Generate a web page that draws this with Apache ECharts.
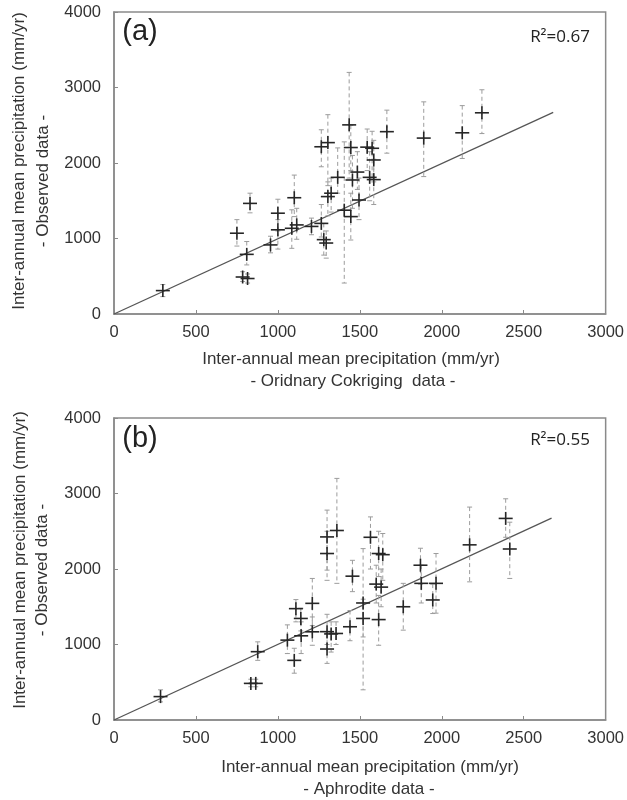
<!DOCTYPE html>
<html>
<head>
<meta charset="utf-8">
<script src="https://cdn.jsdelivr.net/npm/echarts@6/dist/echarts.min.js"></script>
<style>
  html, body { margin: 0; padding: 0; background: #fff; }
  #chart { width: 627px; height: 800px; }
</style>
</head>
<body>
<div id="chart"></div>
<script>
// Panel (a): Ordinary Cokriging estimate vs observed, with observed spread (low/high)
const cokrigingX     = [298, 750, 830, 810, 785, 815, 955, 1000, 1000, 1100, 1085, 1115, 1205, 1265, 1280, 1295, 1265, 1305, 1305, 1325, 1365, 1405, 1435, 1445, 1445, 1455, 1485, 1495, 1545, 1575, 1585, 1560, 1585, 1665, 1890, 2125, 2245];
const cokrigingObs   = [310, 1070, 1465, 790, 490, 470, 915, 1335, 1115, 1540, 1135, 1180, 1160, 1200, 985, 940, 2215, 2270, 1555, 1600, 1810, 1375, 2505, 2205, 1290, 1775, 1880, 1510, 2210, 2195, 2040, 1810, 1780, 2415, 2330, 2400, 2665];
const cokrigingLow   = [230, 900, 1340, 650, 430, 410, 810, 1100, 860, 1290, 870, 990, 1050, 1020, 780, 740, 1950, 1700, 1300, 1350, 1600, 410, 1800, 1900, 980, 1400, 1650, 1250, 1900, 1800, 1750, 1500, 1450, 2130, 1820, 2060, 2390];
const cokrigingHigh  = [390, 1250, 1600, 960, 560, 530, 1030, 1520, 1250, 1840, 1380, 1400, 1270, 1450, 1200, 1100, 2440, 2640, 1750, 1800, 2200, 2280, 3200, 2500, 1600, 2100, 2150, 1800, 2450, 2420, 2300, 2150, 2050, 2700, 2810, 2760, 2970];

// Panel (b): APHRODITE estimate vs observed
const aphroditeX     = [284, 835, 865, 877, 1058, 1100, 1110, 1140, 1142, 1210, 1210, 1300, 1300, 1360, 1300, 1325, 1300, 1355, 1440, 1455, 1520, 1520, 1565, 1615, 1640, 1600, 1630, 1615, 1765, 1870, 1875, 1965, 1945, 2170, 2390, 2415];
const aphroditeObs   = [310, 485, 485, 905, 1058, 790, 1475, 1345, 1115, 1545, 1168, 2425, 2205, 2510, 1170, 1140, 940, 1146, 1235, 1905, 1550, 1345, 2420, 2205, 2190, 1800, 1760, 1330, 1500, 2050, 1810, 1810, 1590, 2320, 2670, 2265];
const aphroditeLow   = [240, 440, 440, 790, 880, 620, 1300, 1180, 880, 1250, 990, 1985, 1850, 1810, 1000, 900, 750, 1000, 1050, 1700, 400, 1100, 2000, 1900, 1850, 1550, 1500, 990, 1190, 1800, 1550, 1415, 1410, 1830, 2420, 1875];
const aphroditeHigh  = [400, 540, 540, 1035, 1260, 950, 1595, 1480, 1300, 1875, 1365, 2780, 2500, 3200, 1400, 1300, 1150, 1300, 1450, 2115, 2270, 1600, 2690, 2500, 2470, 2050, 2000, 1650, 1810, 2275, 2050, 2205, 1800, 2820, 2930, 2620];

// Fitted lines (through origin)
const fitA = [[0, 0], [2680, 2670]];
const fitB = [[0, 0], [2670, 2675]];

// Axis tick values
const xTicks = [0, 500, 1000, 1500, 2000, 2500, 3000];
const yTicks = [0, 1000, 2000, 3000, 4000];

const rows = (xs, ys, lo, hi) => xs.map((x, i) => [x, ys[i], lo[i], hi[i]]);

const FONT = '"Liberation Sans", Arial, sans-serif';
const TEXT = '#333';
const FRAME = '#8a8a8a';

function errorBar(params, api) {
  const x = api.value(0);
  const lo = api.coord([x, api.value(2)]);
  const hi = api.coord([x, api.value(3)]);
  const cx = lo[0];
  const st = { stroke: '#9c9c9c', lineWidth: 1 };
  return {
    type: 'group',
    children: [
      { type: 'line', shape: { x1: cx, y1: hi[1], x2: cx, y2: lo[1] }, style: Object.assign({ lineDash: [4, 3] }, st) },
      { type: 'line', shape: { x1: cx - 2.5, y1: hi[1], x2: cx + 2.5, y2: hi[1] }, style: st },
      { type: 'line', shape: { x1: cx - 2.5, y1: lo[1], x2: cx + 2.5, y2: lo[1] }, style: st }
    ]
  };
}

function crossMark(params, api) {
  const c = api.coord([api.value(0), api.value(1)]);
  const st = { stroke: '#262626', lineWidth: 1.6 };
  return {
    type: 'group',
    children: [
      { type: 'line', shape: { x1: c[0] - 7, y1: c[1], x2: c[0] + 7, y2: c[1] }, style: st },
      { type: 'line', shape: { x1: c[0], y1: c[1] - 6.5, x2: c[0], y2: c[1] + 6.5 }, style: st }
    ]
  };
}

const plain = v => String(v);

function xAxis(gi) {
  return {
    type: 'value', gridIndex: gi, min: xTicks[0], max: xTicks[xTicks.length - 1], interval: 500,
    axisLine: { show: true, lineStyle: { color: FRAME, width: 1.5 } },
    axisTick: { show: true, inside: true, length: 4, lineStyle: { color: FRAME } },
    axisLabel: { color: TEXT, fontFamily: FONT, fontSize: 16.5, margin: 10, formatter: plain },
    splitLine: { show: false }
  };
}
function yAxis(gi) {
  return {
    type: 'value', gridIndex: gi, min: yTicks[0], max: yTicks[yTicks.length - 1], interval: 1000,
    axisLine: { show: true, lineStyle: { color: FRAME, width: 1.5 } },
    axisTick: { show: true, inside: true, length: 4, lineStyle: { color: FRAME } },
    axisLabel: { color: TEXT, fontFamily: FONT, fontSize: 16.5, margin: 13, formatter: plain },
    splitLine: { show: false }
  };
}

function txt(x, y, text, opts) {
  return {
    type: 'text', x: x, y: y, rotation: (opts && opts.rot) || 0, silent: true,
    style: Object.assign({
      text: text, fill: TEXT, font: '17px ' + FONT, align: 'center', verticalAlign: 'middle'
    }, (opts && opts.style) || {})
  };
}

function panelSeries(gi, data, fit) {
  return [
    { type: 'line', xAxisIndex: gi, yAxisIndex: gi, data: fit, showSymbol: false, silent: true,
      lineStyle: { color: '#555', width: 1.3 }, z: 2 },
    { type: 'custom', xAxisIndex: gi, yAxisIndex: gi, data: data, renderItem: errorBar,
      encode: { x: 0, y: [1, 2, 3] }, z: 3, silent: true },
    { type: 'custom', xAxisIndex: gi, yAxisIndex: gi, data: data, renderItem: crossMark,
      encode: { x: 0, y: 1 }, z: 4, silent: true }
  ];
}

const chart = echarts.init(document.getElementById('chart'), null, { renderer: 'canvas' });
chart.setOption({
  backgroundColor: '#fff',
  animation: false,
  grid: [
    { left: 114, top: 12, width: 497, height: 302, show: true, borderColor: FRAME, borderWidth: 1.5 },
    { left: 114, top: 418, width: 497, height: 302, show: true, borderColor: FRAME, borderWidth: 1.5 }
  ],
  xAxis: [xAxis(0), xAxis(1)],
  yAxis: [yAxis(0), yAxis(1)],
  series: [].concat(
    panelSeries(0, rows(cokrigingX, cokrigingObs, cokrigingLow, cokrigingHigh), fitA),
    panelSeries(1, rows(aphroditeX, aphroditeObs, aphroditeLow, aphroditeHigh), fitB)
  ),
  graphic: [
    txt(140, 32, '(a)', { style: { font: '29px ' + FONT, fill: '#222' } }),
    txt(560, 37, 'R²=0.67', { style: { font: '17px "Open Sans", sans-serif', fill: '#222' } }),
    txt(351, 359, 'Inter-annual mean precipitation (mm/yr)'),
    txt(353, 381, '- Oridnary Cokriging  data -'),
    txt(19, 161, 'Inter-annual mean precipitation (mm/yr)', { rot: Math.PI / 2 }),
    txt(43, 181, '- Observed data -', { rot: Math.PI / 2 }),

    txt(140, 439, '(b)', { style: { font: '29px ' + FONT, fill: '#222' } }),
    txt(560, 440, 'R²=0.55', { style: { font: '17px "Open Sans", sans-serif', fill: '#222' } }),
    txt(370, 767, 'Inter-annual mean precipitation (mm/yr)'),
    txt(369, 789, '- Aphrodite data -'),
    txt(20, 560, 'Inter-annual mean precipitation (mm/yr)', { rot: Math.PI / 2 }),
    txt(42, 570, '- Observed data -', { rot: Math.PI / 2 })
  ]
});
</script>
</body>
</html>
